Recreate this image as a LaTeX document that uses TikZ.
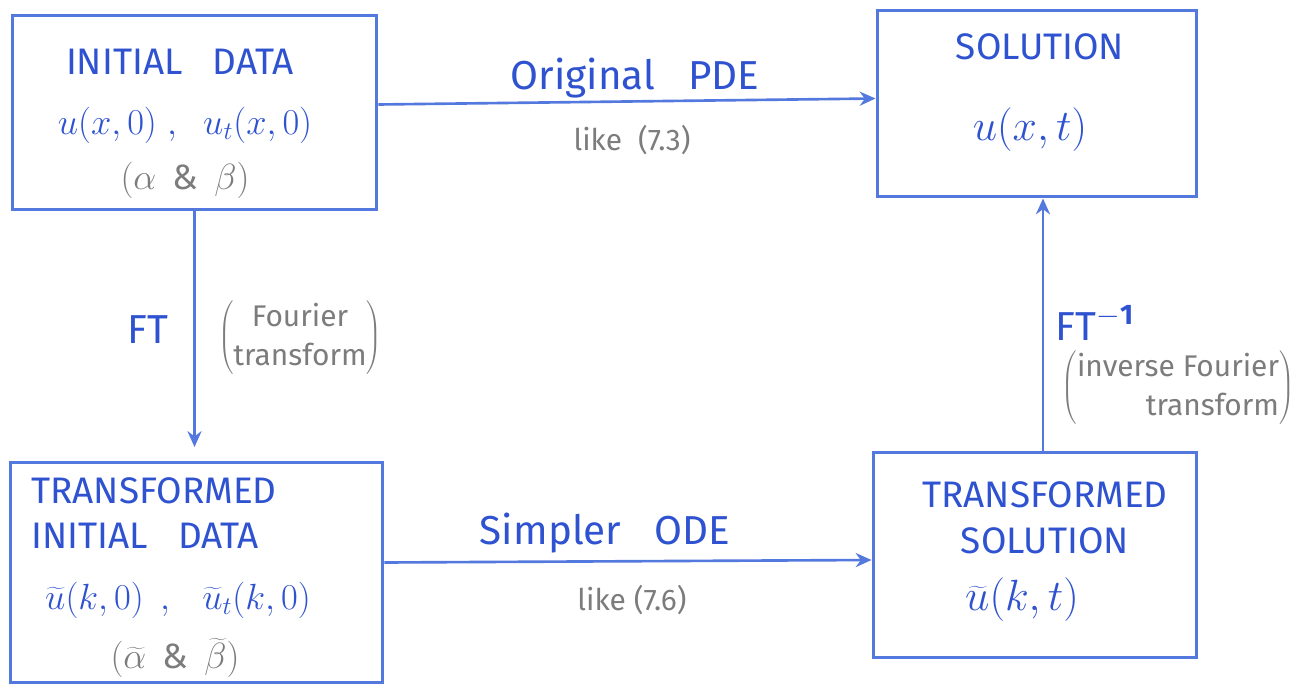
\documentclass[tikz,border=0pt]{standalone}
\usepackage{fontspec}
\setmainfont{Fira Sans}
\usetikzlibrary{arrows.meta,calc}
\definecolor{boxblue}{HTML}{5479DE}
\definecolor{inkblue}{HTML}{2E52D0}
\definecolor{pencil}{HTML}{7C7C7C}
\tikzset{
  box/.style={draw=boxblue, line width=1.7pt, minimum width=#1, inner sep=0pt},
  arr/.style={draw=boxblue, line width=1.5pt, -{Stealth[length=9pt,width=8pt]}},
  title/.style={text=inkblue, font=\fontsize{21}{26}\selectfont, align=center},
  formula/.style={text=inkblue, font=\fontsize{22}{24}\selectfont},
  bigformula/.style={text=inkblue, font=\fontsize{26}{28}\selectfont},
  note/.style={text=pencil, font=\fontsize{17}{22}\selectfont, align=center},
  greek/.style={text=pencil, font=\fontsize{20}{22}\selectfont},
  label/.style={text=inkblue, font=\fontsize{23}{25}\selectfont}
}
\begin{document}
\begin{tikzpicture}[x=0.02cm,y=-0.02cm]
\useasboundingbox[fill=white] (0,0) rectangle (1316,686);
% boxes
\node[box=7.3cm, minimum height=3.9cm] (init) at (194.5,112.5) {};
\node[box=6.4cm, minimum height=3.74cm] (sol) at (1037,103.5) {};
\node[box=7.46cm, minimum height=4.42cm] (tid) at (196.5,572.5) {};
\node[box=6.48cm, minimum height=4.12cm] (tsol) at (1035,555) {};
% box texts
\node[title] (t1) at (180,62) {INITIAL\;\; DATA};
\node[formula] (f1) at (185,125) {$u(x,0)\;,\;\; u_t(x,0)$};
\node[greek] (n1) at (185,180) {$(\alpha\;\,\&\;\,\beta)$};
\node[title] (t2) at (1040,47) {SOLUTION};
\node[bigformula] (f2) at (1030,130) {$u(x,t)$};
\node[title, align=left] (t3) at (154,513) {TRANSFORMED\\INITIAL\;\; DATA};
\node[formula] (f3) at (178,600) {$\widetilde{u}(k,0)\;\,,\;\;\, \widetilde{u}_t(k,0)$};
\node[greek] (n3) at (175,658) {$(\widetilde{\alpha}\;\,\&\;\,\widetilde{\beta})$};
\node[title, align=center] (t4) at (1045,518) {TRANSFORMED\\SOLUTION};
\node[bigformula] (f4) at (1022,600) {$\widetilde{u}(k,t)$};
% arrows
\coordinate (ftend) at (194.5,447);
\draw[arr] ($(init.east)+(0,-8)$) -- ($(sol.west)+(0,-5)$);
\draw[arr] (init.south) -- (ftend);
\draw[arr] ($(tid.east)+(0,-10)$) -- ($(tsol.west)+(0,5)$);
\draw[arr] ($(tsol.north)+(8,0)$) -- ($(sol.south)+(6,0)$);
% arrow labels
\node[label] (l1) at (635,78) {Original\;\; PDE};
\node[note] (l1b) at (632,140) {like\; (7.3)};
\node[label] (l2) at (148,330) {FT};
\node[note] (l2b) at (300,338) {$\left(\hbox{\begin{tabular}{@{}c@{}}Fourier\\transform\end{tabular}}\right)$};
\node[label] (l3) at (605,533) {Simpler\;\; ODE};
\node[note] (l3b) at (632,600) {like (7.6)};
\node[label] (l4) at (1095,323) {FT$^{\mathbf{-1}}$};
\node[note] (l4b) at (1178,388) {$\left(\hbox{\begin{tabular}{@{}r@{}}inverse Fourier\\transform\end{tabular}}\right)$};
\end{tikzpicture}
\end{document}
